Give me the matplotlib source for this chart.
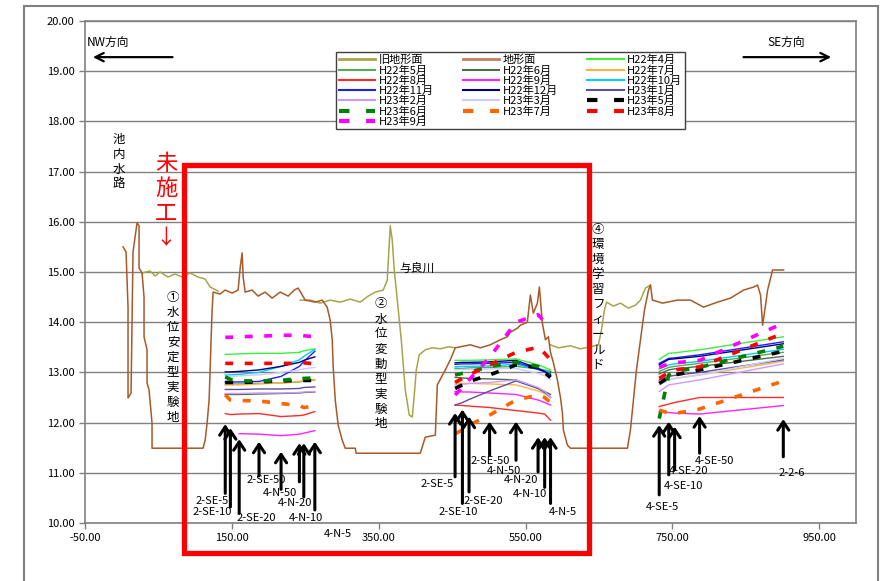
import numpy as np
import matplotlib
matplotlib.use("Agg")
import matplotlib.pyplot as plt
from matplotlib.patches import Rectangle
from matplotlib.lines import Line2D

plt.rcParams['font.family'] = ['Noto Sans CJK JP', 'DejaVu Sans']

W, H = 893, 581

# well positions (distance along section) for the three test sites
WELL_X1 = [141, 148, 160, 187, 217, 242, 248, 263]
WELL_X2 = [454, 464, 473, 501, 537, 567, 576, 584]
WELL_X4 = [732, 745, 753, 787, 901]

WELLS_1 = ["2-SE-5", "2-SE-10", "2-SE-20", "2-SE-50", "4-N-50", "4-N-20", "4-N-10", "4-N-5"]
WELLS_2 = ["2-SE-5", "2-SE-10", "2-SE-20", "2-SE-50", "4-N-50", "4-N-20", "4-N-10", "4-N-5"]
WELLS_4 = ["4-SE-5", "4-SE-10", "4-SE-20", "4-SE-50", "2-2-6"]

# current ground profile (地形面)
GROUND_X = [1.8, 5.9, 8.6, 8.6, 12.7, 15.4, 20.9, 23.6, 23.6, 27.7, 30.4, 30.4, 34.5, 34.5,
            37.2, 41.3, 41.3, 110.8, 113.6, 116.3, 119.0, 120.4, 121.7, 123.1, 124.5, 134.0,
            140.8, 150.4, 158.5, 161.3, 164.0, 165.4, 168.1, 177.6, 185.8, 195.3, 204.9,
            215.8, 226.7, 234.9, 240.3, 249.9, 263.5, 273.0, 279.8, 283.9, 286.7, 288.0,
            290.8, 294.8, 300.3, 304.4, 318.0, 319.4, 406.6, 413.4, 427.1, 429.8, 440.7,
            447.5, 454.3, 474.8, 488.4, 502.0, 515.6, 525.2, 529.3, 538.8, 542.9, 552.4,
            556.5, 560.6, 566.1, 568.8, 572.9, 577.0, 581.1, 583.8, 587.9, 593.3, 597.4,
            600.2, 601.5, 607.0, 611.1, 688.7, 692.8, 696.9, 701.0, 706.5, 711.9, 717.4,
            720.1, 722.8, 736.5, 756.9, 774.6, 792.3, 811.4, 829.1, 846.9, 860.5, 865.9,
            870.0, 872.8, 876.8, 879.6, 886.4, 901.4]
GROUND_Y = [15.50, 15.40, 14.30, 12.49, 12.59, 15.40, 15.98, 15.92, 15.08, 14.98, 14.50, 13.71,
            13.45, 12.79, 12.65, 11.99, 11.49, 11.49, 11.65, 11.99, 12.45, 13.05, 13.65, 14.24,
            14.60, 14.56, 14.64, 14.58, 14.64, 15.08, 15.38, 14.90, 14.60, 14.64, 14.52, 14.60,
            14.48, 14.60, 14.52, 14.64, 14.68, 14.44, 14.40, 14.44, 14.30, 14.04, 13.65, 13.11,
            12.45, 11.95, 11.65, 11.49, 11.49, 11.39, 11.39, 11.71, 11.75, 12.75, 13.05, 13.25,
            13.49, 13.55, 13.49, 13.55, 13.65, 13.71, 13.80, 13.88, 13.94, 14.00, 14.54, 14.18,
            14.38, 14.70, 13.98, 13.65, 13.71, 13.41, 13.19, 12.85, 12.51, 12.19, 11.85, 11.55,
            11.49, 11.49, 11.85, 12.45, 13.05, 13.65, 14.24, 14.64, 14.74, 14.44, 14.38, 14.44,
            14.44, 14.30, 14.40, 14.48, 14.64, 14.70, 14.74, 14.54, 13.94, 14.34, 14.64, 15.04,
            15.04]

# former ground profile (旧地形面), gaps where it coincides with the current one
OLD_X = [27.7, 38.6, 45.4, 52.2, 63.1, 72.7, 82.2, 93.1, 104.0, 113.6, 120.4, 131.3, np.nan,
         243.0, 256.7, 270.3, 283.9, 297.6, 311.2, 324.8, 335.7, 345.3, 356.2, 361.6, 365.7,
         368.4, 371.2, 375.3, 380.7, 386.2, 391.6, 395.7, 398.4, 401.2, 405.2, 413.4, 423.0,
         433.9, 444.8, 454.3, np.nan, 583.8, 594.7, 611.1, 624.7, 638.3, 649.2, 653.3, 657.4,
         660.2, 669.7, 679.2, 690.1, 699.7, 706.5, 713.3, 720.1]
OLD_Y = [14.98, 15.02, 14.92, 15.00, 14.90, 14.96, 14.90, 14.98, 14.90, 14.86, 14.70, 14.62, np.nan,
         14.44, 14.44, 14.38, 14.44, 14.40, 14.46, 14.40, 14.52, 14.60, 14.64, 14.84, 15.92,
         15.64, 15.04, 14.44, 13.65, 12.65, 12.15, 12.11, 12.55, 13.05, 13.35, 13.45, 13.49,
         13.47, 13.51, 13.49, np.nan, 13.55, 13.49, 13.53, 13.47, 13.51, 13.55, 13.84, 14.24,
         14.40, 14.32, 14.38, 14.28, 14.34, 14.44, 14.68, 14.74]

# groundwater level per month: site1 (8) + site2 (8) + site4 (5)
H22_04 = [13.36, 13.36, 13.37, 13.38, 13.38, 13.40, 13.43, 13.47,
          13.24, 13.24, 13.24, 13.25, 13.27, 13.15, 13.10, 13.05,
          13.26, 13.38, 13.39, 13.45, 13.71]
H22_05 = [12.77, 12.77, 12.77, 12.78, 12.79, 12.81, 12.83, 12.85,
          13.08, 13.08, 13.09, 13.10, 13.12, 13.07, 13.05, 13.02,
          13.02, 13.10, 13.12, 13.18, 13.40]
H22_06 = [12.56, 12.56, 12.56, 12.57, 12.58, 12.59, 12.60, 12.61,
          12.90, 12.89, 12.88, 12.87, 12.85, 12.68, 12.62, 12.56,
          12.97, 13.05, 13.07, 13.12, 13.32]
H22_07 = [12.75, 12.75, 12.75, 12.77, 12.79, 12.82, 12.84, 12.86,
          12.79, 12.78, 12.78, 12.77, 12.75, 12.63, 12.58, 12.52,
          12.80, 12.85, 12.88, 12.95, 13.22]
H22_08 = [12.18, 12.16, 12.17, 12.18, 12.12, 12.14, 12.15, 12.22,
          12.35, 12.34, 12.33, 12.30, 12.24, 12.19, 12.17, 12.05,
          12.32, 12.37, 12.40, 12.50, 12.50]
H22_09 = [np.nan, np.nan, 11.78, 11.77, 11.74, 11.77, 11.79, 11.84,
          12.62, 12.61, 12.61, 12.59, 12.56, 12.45, 12.40, 12.35,
          12.22, 12.20, 12.19, 12.17, 12.34]
H22_10 = [12.95, 12.95, 12.96, 13.00, 13.12, 13.25, 13.32, 13.46,
          13.11, 13.12, 13.12, 13.13, 13.16, 13.06, 13.03, 13.00,
          13.07, 13.15, 13.17, 13.22, 13.46]
H22_11 = [12.81, 12.81, 12.81, 12.82, 12.92, 13.12, 13.22, 13.42,
          13.16, 13.17, 13.17, 13.18, 13.20, 13.06, 13.01, 12.96,
          13.18, 13.28, 13.29, 13.35, 13.61]
H22_12 = [13.01, 13.01, 13.02, 13.05, 13.12, 13.20, 13.24, 13.31,
          13.19, 13.20, 13.20, 13.21, 13.24, 13.08, 13.02, 12.94,
          13.15, 13.26, 13.27, 13.32, 13.57]
H23_01 = [12.66, 12.66, 12.66, 12.67, 12.67, 12.68, 12.70, 12.71,
          12.35, 12.40, 12.46, 12.63, 12.83, 12.68, 12.60, 12.50,
          12.85, 12.92, 12.94, 13.00, 13.25]
H23_02 = [12.58, 12.58, 12.58, 12.59, 12.59, 12.60, 12.61, 12.62,
          12.75, 12.76, 12.78, 12.80, 12.85, 12.70, 12.62, 12.50,
          12.62, 12.75, 12.77, 12.85, 13.17]
H23_03 = [12.92, 12.92, 12.93, 12.95, 13.00, 13.05, 13.07, 13.10,
          13.05, 13.06, 13.06, 13.07, 13.08, 12.98, 12.93, 12.85,
          12.75, 12.85, 12.88, 12.95, 13.28]
H23_05 = [12.80, 12.80, 12.80, 12.81, 12.83, 12.84, 12.84, 12.84,
          12.68, 12.75, 12.82, 12.95, 13.15, 13.10, 13.00, 12.90,
          12.78, 12.90, 12.95, 13.05, 13.42]
H23_06 = [12.91, 12.86, 12.83, 12.83, 12.84, 12.88, 12.88, 12.89,
          12.95, 12.98, 13.00, 13.12, 13.20, 13.12, 13.05, 12.98,
          12.08, 12.95, 13.02, 13.10, 13.52]
H23_07 = [12.55, 12.45, 12.44, 12.43, 12.38, 12.34, 12.30, 12.33,
          11.78, 11.85, 11.95, 12.15, 12.45, 12.55, 12.50, 12.40,
          12.25, 12.19, 12.18, 12.27, 12.83]
H23_08 = [13.18, 13.18, 13.18, 13.18, 13.18, 13.18, 13.19, 13.17,
          12.80, 12.88, 12.95, 13.15, 13.40, 13.50, 13.38, 13.25,
          12.88, 13.00, 13.05, 13.11, 13.78]
H23_09 = [13.70, 13.70, 13.71, 13.72, 13.74, 13.74, 13.73, 13.71,
          12.55, 12.70, 12.85, 13.30, 14.00, 14.15, 14.00, 13.90,
          13.10, 13.17, 13.19, 13.24, 13.98]

# arrow tips / tails and label positions (elevation) for each well
TIP_1 = [11.97, 11.89, 11.67, 11.62, 11.42, 11.59, 11.59, 11.62]
TAIL_1 = [10.59, 10.32, 10.19, 10.94, 10.67, 10.82, 10.52, 10.26]
TIP_2 = [12.19, 12.26, 12.12, 12.02, 12.02, 11.71, 11.71, 11.71]
TAIL_2 = [10.92, 10.39, 10.62, 11.35, 11.25, 11.02, 10.71, 10.39]
TIP_4 = [11.95, 12.02, 11.92, 12.13, 12.07]
TAIL_4 = [10.56, 10.96, 11.06, 11.39, 11.32]
LAB_X1 = [123, 123, 183, 197, 216, 236, 251, 294]
LAB_Y1 = [10.44, 10.22, 10.10, 10.86, 10.60, 10.40, 10.10, 9.78]
LAB_X2 = [430, 458, 492, 502, 520, 544, 556, 601]
LAB_Y2 = [10.78, 10.22, 10.44, 11.24, 11.04, 10.86, 10.58, 10.22]
LAB_X4 = [736, 765, 772, 807, 912]
LAB_Y4 = [10.32, 10.74, 11.04, 11.24, 11.00]

SERIES = [
    ("H22年4月", H22_04, "#3CF03C", "-"),
    ("H22年5月", H22_05, "#55AA55", "-"),
    ("H22年6月", H22_06, "#4A6E4A", "-"),
    ("H22年7月", H22_07, "#FFB347", "-"),
    ("H22年8月", H22_08, "#FF2A2A", "-"),
    ("H22年9月", H22_09, "#FF22FF", "-"),
    ("H22年10月", H22_10, "#00CCFF", "-"),
    ("H22年11月", H22_11, "#1E1EFF", "-"),
    ("H22年12月", H22_12, "#00007F", "-"),
    ("H23年1月", H23_01, "#5E4E9E", "-"),
    ("H23年2月", H23_02, "#CC99FF", "-"),
    ("H23年3月", H23_03, "#CCCCFF", "-"),
    ("H23年5月", H23_05, "#000000", "--"),
    ("H23年6月", H23_06, "#008000", "--"),
    ("H23年7月", H23_07, "#FF6600", "--"),
    ("H23年8月", H23_08, "#FF0000", "--"),
    ("H23年9月", H23_09, "#FF00FF", "--"),
]

fig = plt.figure(figsize=(W / 100, H / 100), dpi=100)
ax = fig.add_axes([85 / W, 1 - 523 / H, (856 - 85) / W, (523 - 21) / H])
ax.set_xlim(-50, 1000)
ax.set_ylim(10, 20)
ax.set_xticks(np.arange(-50, 1000, 200))
ax.set_yticks(np.arange(10, 21, 1))
ax.xaxis.set_major_formatter(lambda v, p: f"{v:.2f}")
ax.yaxis.set_major_formatter(lambda v, p: f"{v:.2f}")
ax.tick_params(labelsize=8, color="#808080", length=4, width=1)
for sp in ax.spines.values():
    sp.set_color("#808080")
    sp.set_linewidth(1.2)
ax.grid(axis="y", color="#808080", lw=1.0)
ax.set_axisbelow(True)

handles = []
ax.plot(OLD_X, OLD_Y, color="#A5A54A", lw=1.1, zorder=2)
ax.plot(GROUND_X, GROUND_Y, color="#A65A2A", lw=1.1, zorder=3)
handles += [Line2D([], [], color="#A5A54A", lw=2, label="旧地形面"),
            Line2D([], [], color="#C08060", lw=2, label="地形面")]

xs = WELL_X1 + [np.nan] + WELL_X2 + [np.nan] + WELL_X4
for name, vals, col, ls in SERIES:
    ys = vals[:8] + [np.nan] + vals[8:16] + [np.nan] + vals[16:]
    if ls == "--":
        ax.plot(xs, ys, color=col, lw=2.6, ls=(0, (2.2, 3.2)), zorder=5)
        handles.append(Line2D([], [], color=col, lw=3, ls=(0, (2.5, 4)), label=name))
    else:
        ax.plot(xs, ys, color=col, lw=1.0, zorder=4)
        handles.append(Line2D([], [], color=col, lw=1.5, label=name))

# observation well arrows and names
for wx, tips, tails, names, lx, ly in [
        (WELL_X1, TIP_1, TAIL_1, WELLS_1, LAB_X1, LAB_Y1),
        (WELL_X2, TIP_2, TAIL_2, WELLS_2, LAB_X2, LAB_Y2),
        (WELL_X4, TIP_4, TAIL_4, WELLS_4, LAB_X4, LAB_Y4)]:
    for x, t0, t1, nm, tx, ty in zip(wx, tips, tails, names, lx, ly):
        ax.annotate("", xy=(x, t0), xytext=(x, t1),
                    arrowprops=dict(arrowstyle="->,head_length=0.6,head_width=0.4",
                                    lw=2.2, color="black", shrinkA=0, shrinkB=0),
                    zorder=6, annotation_clip=False)
        ax.text(tx, ty, nm, fontsize=8, ha="center", va="center", zorder=7, clip_on=False)

# direction arrows
ax.annotate("", xy=(-43, 19.28), xytext=(73, 19.28),
            arrowprops=dict(arrowstyle="->,head_length=0.6,head_width=0.3", lw=1.6, color="black"))
ax.annotate("", xy=(970, 19.28), xytext=(843, 19.28),
            arrowprops=dict(arrowstyle="->,head_length=0.6,head_width=0.3", lw=1.6, color="black"))


def ftext(px, py, s, **kw):
    fig.text(px / W, 1 - py / H, s, ha="center", va="center", **kw)


def vtext(px, py0, step, s, **kw):
    for i, ch in enumerate(s):
        ftext(px, py0 + i * step, ch, **kw)


ftext(108, 42, "NW方向", fontsize=8.5)
ftext(786, 42, "SE方向", fontsize=8.5)
vtext(119, 140, 14.5, "池内水路", fontsize=9)
vtext(166, 163, 25, "未施工", fontsize=16, color="red")
ftext(166, 238, "↓", fontsize=15, color="red")
vtext(173, 297, 15, "①水位安定型実験地", fontsize=9)
vtext(381, 304, 15, "②水位変動型実験地", fontsize=9)
ftext(417, 268, "与良川", fontsize=8.5)
vtext(598, 229, 15.1, "④環境学習フィールド", fontsize=9)

# unfinished-construction frame
ax.add_patch(Rectangle((85, 9.4), 551, 7.73, fill=False, edgecolor="red", lw=3.8,
                       clip_on=False, zorder=8))
# chart area border
fig.add_artist(Rectangle((23.5 / W, -0.01), (878 - 23.5) / W, 1 - 5.5 / H + 0.01, fill=False,
                         edgecolor="#808080", lw=1.5, transform=fig.transFigure))

# legend: row-major order -> column-major for ncol=3
n = len(handles)
order = [i for c in range(3) for i in range(c, n, 3)]
leg = ax.legend([handles[i] for i in order], [handles[i].get_label() for i in order],
                ncol=3, loc="upper left", bbox_to_anchor=(336 / W, 1 - 52 / H),
                bbox_transform=fig.transFigure, fontsize=8, frameon=True, fancybox=False,
                edgecolor="#404040", framealpha=1, borderpad=0.25, labelspacing=-0.02,
                handlelength=3.3, handletextpad=0.3, columnspacing=2.6, borderaxespad=0)
leg.get_frame().set_linewidth(1.0)
leg.set_zorder(9)

fig.savefig("out.png", dpi=100)
